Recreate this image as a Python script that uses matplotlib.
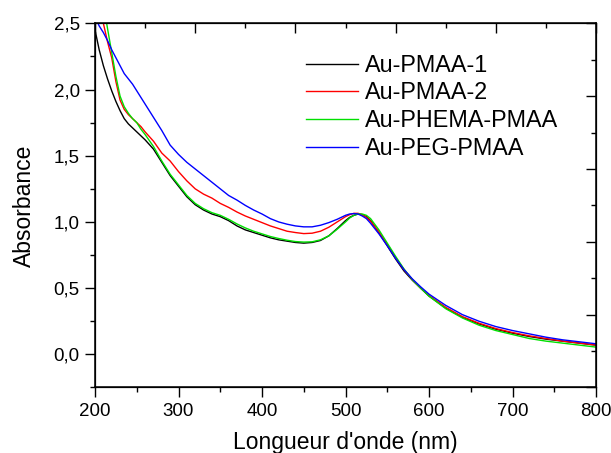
import matplotlib
matplotlib.use("Agg")
import matplotlib.pyplot as plt
from matplotlib.ticker import MultipleLocator

plt.rcParams['font.family'] = ['Liberation Sans', 'DejaVu Sans']

wavelength = [200, 205, 210, 215, 220, 225, 230, 235, 240, 245, 250, 255, 260, 270, 280,
              290, 300, 310, 320, 330, 340, 350, 360, 370, 380, 390, 400, 410, 420, 430,
              440, 450, 460, 470, 480, 490, 500, 505, 510, 515, 520, 525, 530, 540, 550,
              560, 570, 580, 590, 600, 620, 640, 660, 680, 700, 720, 740, 760, 780, 800]

au_pmaa_1 = [2.45, 2.30, 2.18, 2.08, 1.99, 1.91, 1.84, 1.78, 1.74, 1.71, 1.68, 1.65, 1.62, 1.55, 1.45,
             1.35, 1.27, 1.19, 1.13, 1.09, 1.06, 1.04, 1.01, 0.97, 0.94, 0.92, 0.90, 0.88, 0.865, 0.855,
             0.845, 0.84, 0.845, 0.86, 0.895, 0.95, 1.01, 1.035, 1.05, 1.06, 1.055, 1.04, 1.01, 0.92, 0.82,
             0.72, 0.63, 0.56, 0.50, 0.44, 0.35, 0.28, 0.23, 0.19, 0.16, 0.135, 0.115, 0.10, 0.085, 0.07]

au_pmaa_2 = [3.0, 2.70, 2.50, 2.36, 2.24, 2.06, 1.92, 1.85, 1.81, 1.78, 1.75, 1.72, 1.68, 1.61, 1.52,
             1.46, 1.38, 1.31, 1.25, 1.21, 1.18, 1.14, 1.11, 1.075, 1.045, 1.02, 0.995, 0.97, 0.95, 0.93,
             0.92, 0.912, 0.915, 0.93, 0.96, 1.00, 1.04, 1.055, 1.065, 1.065, 1.055, 1.035, 1.005, 0.925, 0.83,
             0.73, 0.64, 0.565, 0.50, 0.445, 0.355, 0.285, 0.235, 0.195, 0.165, 0.14, 0.12, 0.10, 0.085, 0.07]

au_phema_pmaa = [3.1, 2.85, 2.65, 2.46, 2.28, 2.10, 1.95, 1.87, 1.82, 1.78, 1.75, 1.70, 1.66, 1.57, 1.46,
                 1.36, 1.28, 1.20, 1.14, 1.10, 1.07, 1.05, 1.02, 0.985, 0.955, 0.93, 0.91, 0.89, 0.875, 0.862,
                 0.852, 0.848, 0.85, 0.865, 0.895, 0.945, 1.00, 1.03, 1.05, 1.06, 1.06, 1.05, 1.025, 0.94, 0.84,
                 0.74, 0.645, 0.565, 0.50, 0.44, 0.345, 0.275, 0.22, 0.18, 0.15, 0.12, 0.10, 0.085, 0.07, 0.055]

au_peg_pmaa = [2.55, 2.48, 2.43, 2.37, 2.30, 2.24, 2.18, 2.12, 2.08, 2.04, 1.99, 1.94, 1.89, 1.79, 1.69,
               1.58, 1.51, 1.45, 1.40, 1.35, 1.30, 1.25, 1.20, 1.165, 1.125, 1.09, 1.06, 1.025, 1.00, 0.983,
               0.97, 0.963, 0.963, 0.975, 0.995, 1.02, 1.05, 1.06, 1.063, 1.06, 1.045, 1.025, 0.99, 0.91, 0.82,
               0.725, 0.64, 0.57, 0.51, 0.455, 0.37, 0.30, 0.25, 0.21, 0.18, 0.155, 0.13, 0.11, 0.095, 0.08]

labels = ['Au-PMAA-1', 'Au-PMAA-2', 'Au-PHEMA-PMAA', 'Au-PEG-PMAA']
colors = ['black', 'red', '#00e000', 'blue']
series = [au_pmaa_1, au_pmaa_2, au_phema_pmaa, au_peg_pmaa]

fig = plt.figure(figsize=(6.11, 4.53), dpi=100)
ax = fig.add_axes([0.1555, 0.1446, 0.82, 0.804])

for vals, lab, col in zip(series, labels, colors):
    ax.plot(wavelength, vals, color=col, lw=1.0, label=lab)

ax.set_xlim(200, 800)
ax.set_ylim(-0.25, 2.5)
ax.xaxis.set_major_locator(MultipleLocator(100))
ax.xaxis.set_minor_locator(MultipleLocator(50))
ax.yaxis.set_major_locator(MultipleLocator(0.5))
ax.yaxis.set_minor_locator(MultipleLocator(0.25))
ax.yaxis.set_major_formatter(plt.FuncFormatter(lambda v, p: f"{v:.1f}".replace('.', ',')))
ax.tick_params(which='major', direction='out', length=7, width=1, labelsize=13.5, pad=4)
ax.tick_params(which='minor', direction='out', length=3.5, width=1)
for s in ax.spines.values():
    s.set_linewidth(1.1)

ax.set_xlabel("Longueur d'onde (nm)", fontsize=16.5, labelpad=8)
ax.set_ylabel("Absorbance", fontsize=16.5, labelpad=13)

# top and right axes with their own tick divisions
axt = ax.twiny()
axt.set_xlim(0, 10)
axt.xaxis.set_major_locator(MultipleLocator(2))
axt.xaxis.set_minor_locator(MultipleLocator(1))
axt.tick_params(axis='x', which='major', direction='in', length=7, width=1, labeltop=False)
axt.tick_params(axis='x', which='minor', direction='in', length=3.5, width=1)
axr = ax.twinx()
axr.set_ylim(0, 10)
axr.yaxis.set_major_locator(MultipleLocator(2))
axr.yaxis.set_minor_locator(MultipleLocator(1))
axr.tick_params(axis='y', which='major', direction='in', length=7, width=1, labelright=False)
axr.tick_params(axis='y', which='minor', direction='in', length=3.5, width=1)
axr.set_xlim(ax.get_xlim())

leg = ax.legend(loc='upper left', bbox_to_anchor=(0.402, 0.942), frameon=False,
                fontsize=16.8, handlelength=2.25, handletextpad=0.3, labelspacing=0.2,
                borderaxespad=0)

fig.savefig('out.png', dpi=100)
